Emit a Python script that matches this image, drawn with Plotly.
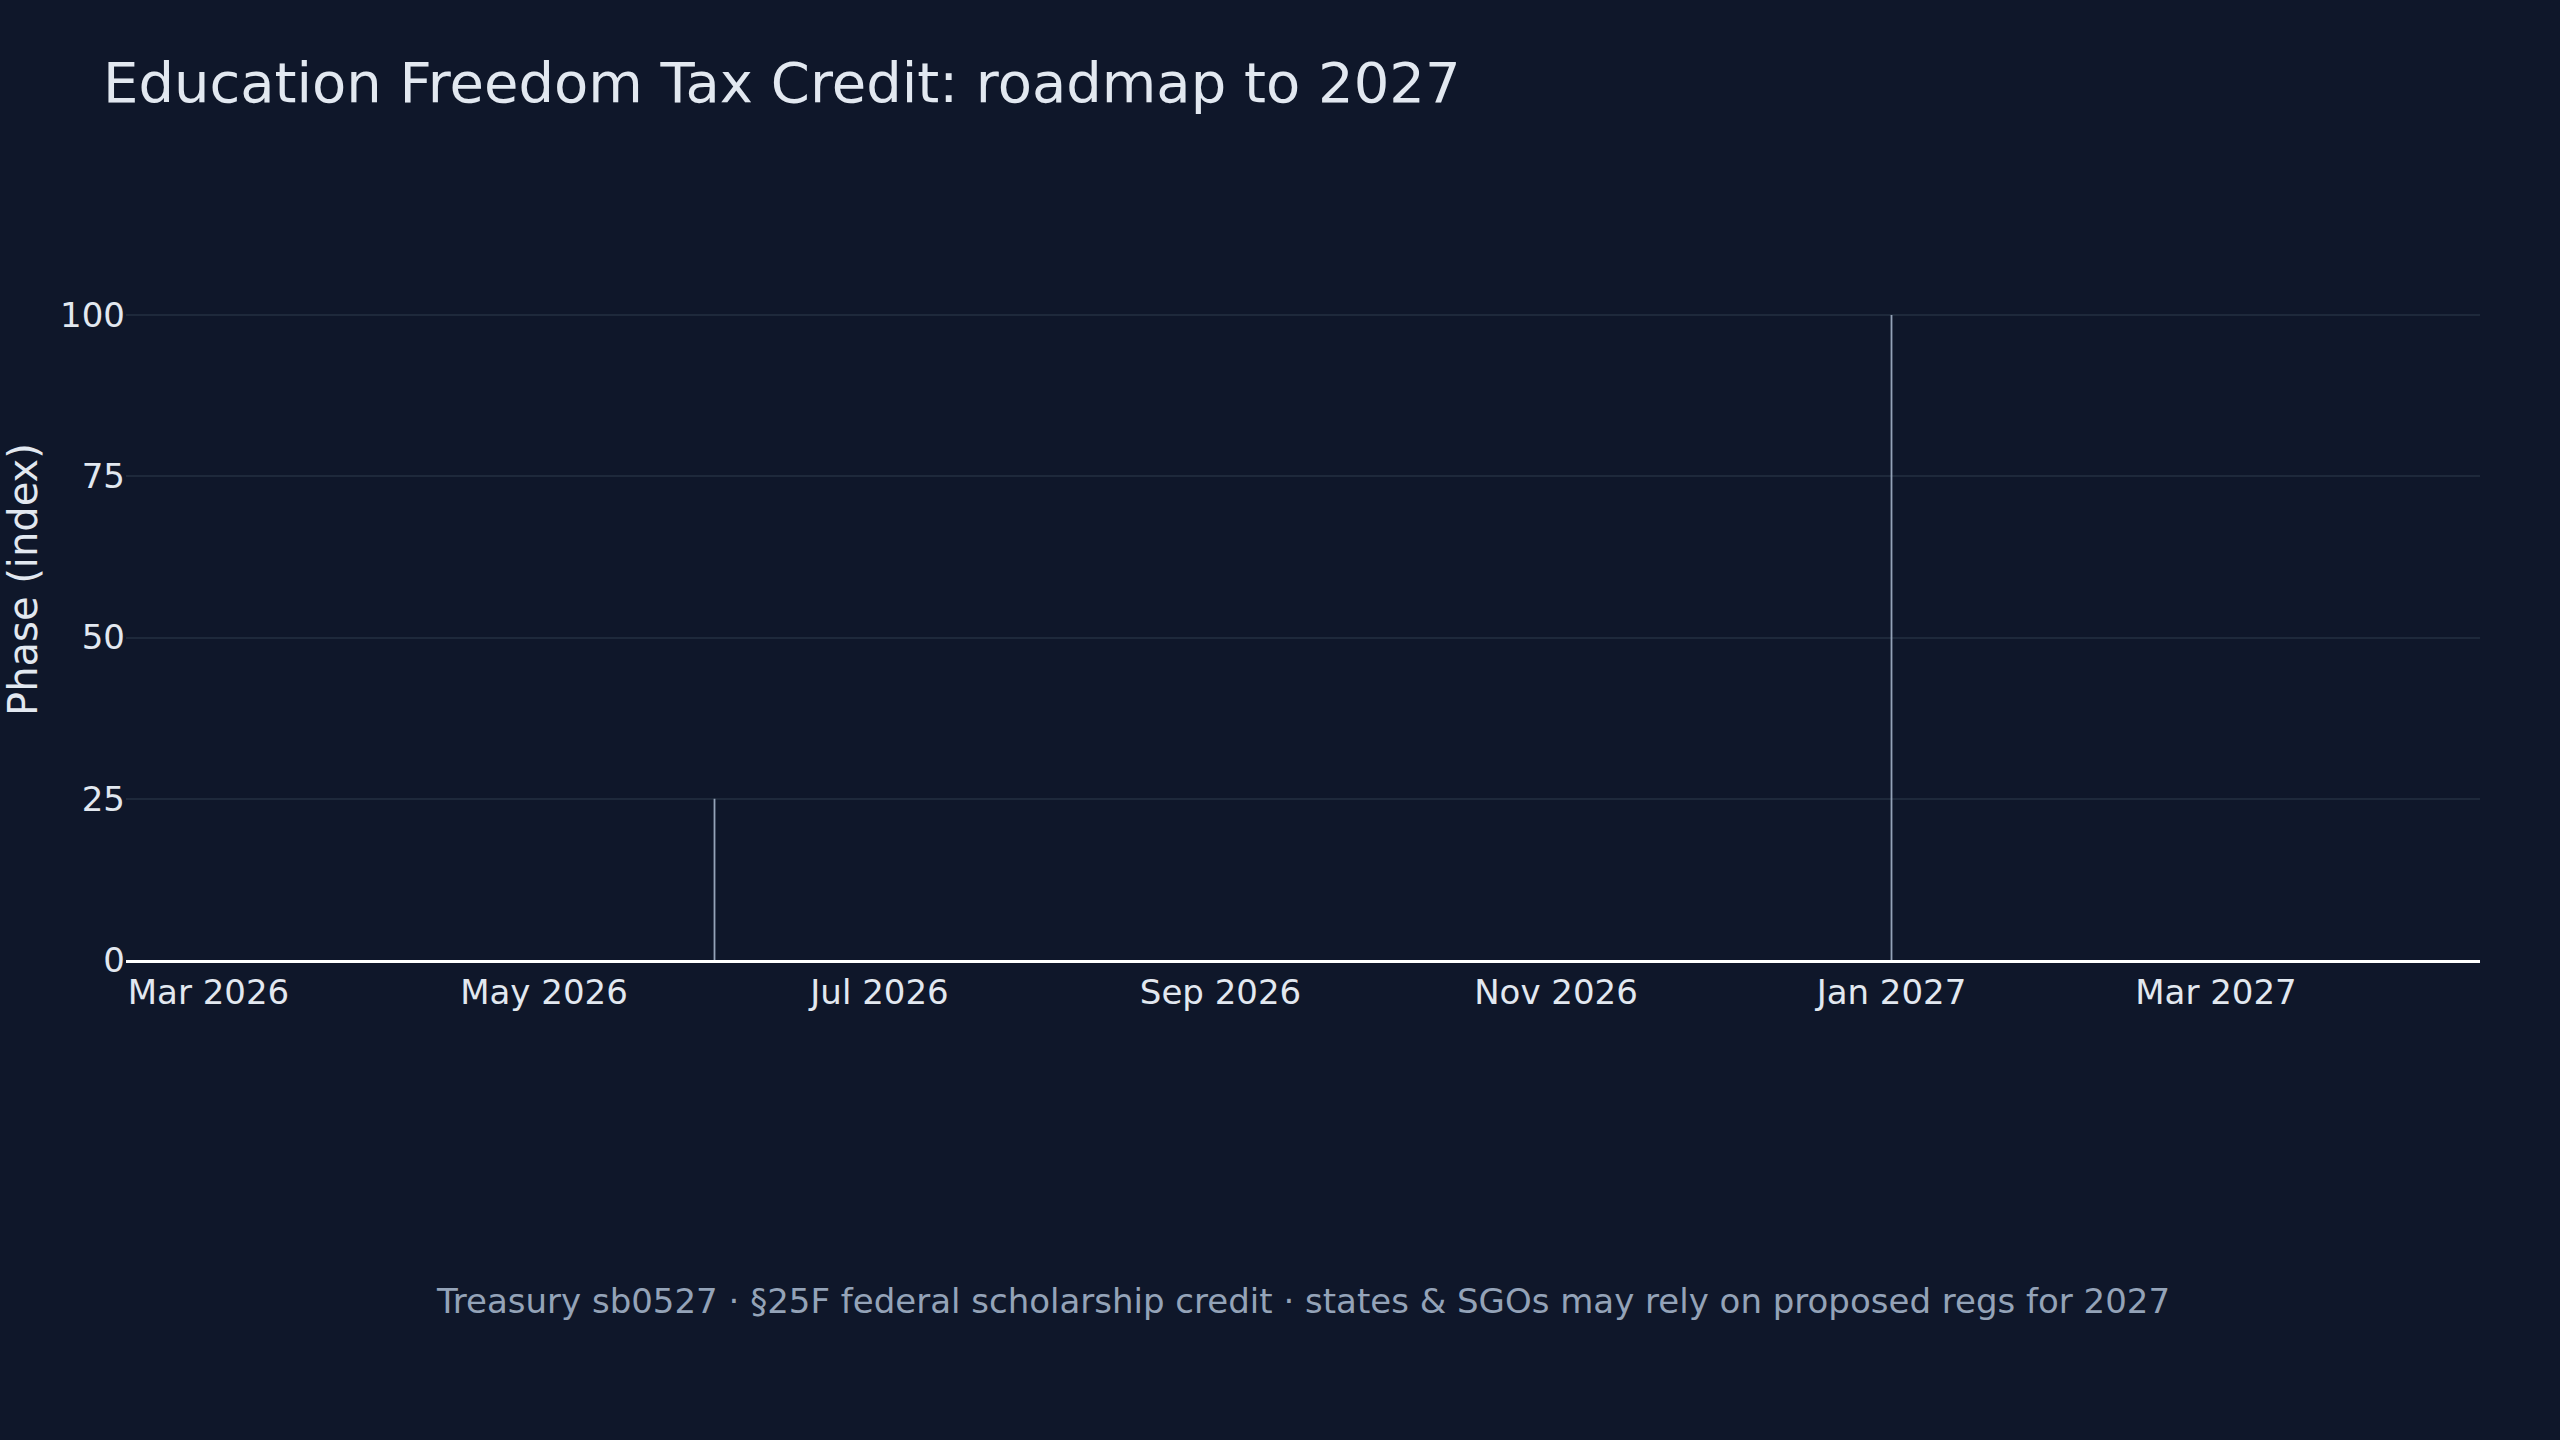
import plotly.graph_objects as go

# Data
milestone_dates = ["2026-06-01", "2027-01-01"]
milestone_values = [25, 100]
x_range = ["2026-02-14", "2027-04-18"]
y_range = [0, 118]
y_ticks = [0, 25, 50, 75, 100]

title_text = "Education Freedom Tax Credit: roadmap to 2027"
footer_text = ("Treasury sb0527 · §25F federal scholarship credit · "
               "states & SGOs may rely on proposed regs for 2027")

BG = "#0f172a"
TXT = "#e2e8f0"
MUTED = "#94a3b8"
GRID = "#1e293b"
FONT = "DejaVu Sans"

xs, ys = [], []
for d, v in zip(milestone_dates, milestone_values):
    xs += [d, d, None]
    ys += [0, v, None]

fig = go.Figure()
fig.add_trace(go.Scatter(
    x=xs, y=ys, mode="lines",
    line=dict(color=MUTED, width=1.8),
    showlegend=False, hoverinfo="skip",
))

fig.update_layout(
    width=2560, height=1440,
    paper_bgcolor=BG, plot_bgcolor=BG,
    font=dict(family=FONT, color=TXT, size=34),
    margin=dict(l=124, r=80, t=199, b=480),
    title=dict(text=title_text, x=103 / 2560, xanchor="left",
               y=1 - 82 / 1440, yanchor="middle",
               font=dict(size=56, color=TXT, family=FONT)),
    showlegend=False,
)
fig.update_xaxes(
    type="date", range=x_range, dtick="M2", tick0="2026-03-01",
    tickformat="%b %Y", showgrid=False, zeroline=False,
    showline=True, linecolor="#ffffff", linewidth=2.5,
    ticks="", tickfont=dict(size=34, color=TXT),
)
fig.update_yaxes(
    range=y_range, tickvals=y_ticks, showgrid=True, gridcolor=GRID,
    gridwidth=1.8, zeroline=False, showline=False, ticks="",
    tickfont=dict(size=34, color=TXT),
    title=dict(text="Phase (index)", font=dict(size=40, color=TXT), standoff=20),
)
fig.add_annotation(
    text=footer_text, xref="paper", yref="paper", x=0.5,
    y=-(1301 - 960) / (960 - 199),
    xanchor="center", yanchor="middle", showarrow=False,
    font=dict(size=34, color=MUTED, family=FONT),
)

fig.write_html("out.html")
